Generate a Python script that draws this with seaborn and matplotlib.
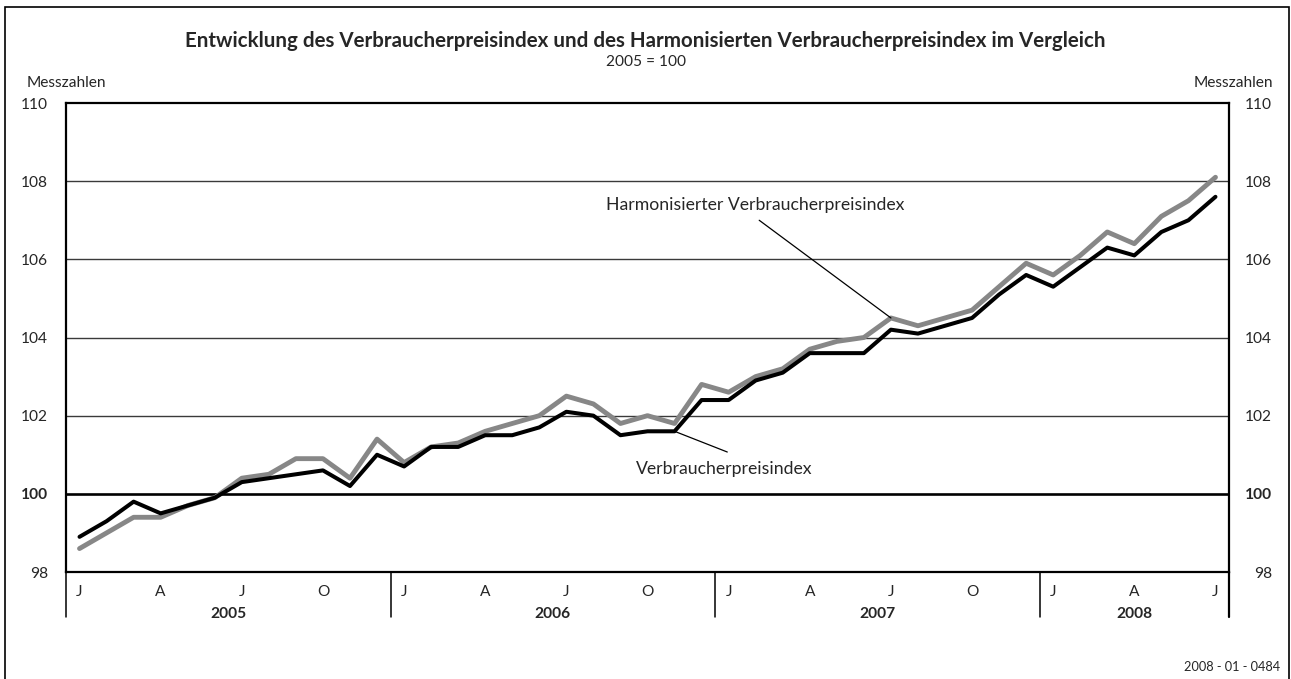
import matplotlib
matplotlib.use("Agg")
import matplotlib.pyplot as plt
import matplotlib.transforms as mtransforms
from matplotlib.patches import Rectangle
import seaborn as sns
import pandas as pd

# Data: monthly index values (2005 = 100), Jan 2005 - Jul 2008
years = ["2005", "2006", "2007", "2008"]
months_per_year = [12, 12, 12, 7]
month_letters = ["J", "F", "M", "A", "M", "J", "J", "A", "S", "O", "N", "D"]

vpi = [98.9, 99.3, 99.8, 99.5, 99.7, 99.9, 100.3, 100.4, 100.5, 100.6, 100.2, 101.0,
       100.7, 101.2, 101.2, 101.5, 101.5, 101.7, 102.1, 102.0, 101.5, 101.6, 101.6, 102.4,
       102.4, 102.9, 103.1, 103.6, 103.6, 103.6, 104.2, 104.1, 104.3, 104.5, 105.1, 105.6,
       105.3, 105.8, 106.3, 106.1, 106.7, 107.0, 107.6]
hvpi = [98.6, 99.0, 99.4, 99.4, 99.7, 99.9, 100.4, 100.5, 100.9, 100.9, 100.4, 101.4,
        100.8, 101.2, 101.3, 101.6, 101.8, 102.0, 102.5, 102.3, 101.8, 102.0, 101.8, 102.8,
        102.6, 103.0, 103.2, 103.7, 103.9, 104.0, 104.5, 104.3, 104.5, 104.7, 105.3, 105.9,
        105.6, 106.1, 106.7, 106.4, 107.1, 107.5, 108.1]

n = len(vpi)
df = pd.DataFrame({"idx": list(range(n)) * 2,
                   "value": vpi + hvpi,
                   "series": ["Verbraucherpreisindex"] * n + ["Harmonisierter Verbraucherpreisindex"] * n})

sns.set_style("white")
plt.rcParams["font.family"] = ["Lato", "DejaVu Sans"]
fs = 11.2

fig = plt.figure(figsize=(12.91, 6.79), dpi=100)
ax = fig.add_axes([66 / 1291, 107 / 679, (1229 - 66) / 1291, (572 - 103) / 679])

# gridlines
for v in [102, 104, 106, 108]:
    ax.axhline(v, color="#3a3a3a", lw=1.0, zorder=1)
ax.axhline(100, color="black", lw=1.9, zorder=1)

sns.lineplot(data=df[df.series.str.startswith("Harm")], x="idx", y="value",
             color="#878787", lw=3.5, ax=ax, zorder=3)
sns.lineplot(data=df[df.series == "Verbraucherpreisindex"], x="idx", y="value",
             color="black", lw=2.9, ax=ax, zorder=4)

ax.set_xlim(-0.5, n - 0.5)
ax.set_ylim(98, 110)
ax.set_xlabel("")
ax.set_ylabel("")

for s in ax.spines.values():
    s.set_color("black")
    s.set_linewidth(1.6)

# x axis: month letters at Jan/Apr/Jul/Oct, minor ticks at month boundaries
major = list(range(0, n, 3))
ax.set_xticks(major)
ax.set_xticklabels([month_letters[i % 12] for i in major], fontsize=fs)
ax.set_xticks([i - 0.5 for i in range(n + 1)], minor=True)
ax.tick_params(axis="x", which="major", length=0, pad=9)
ax.tick_params(axis="x", which="minor", length=4.3, width=1.1, direction="out", color="black")

# y axis labels on both sides
yt = [98, 100, 102, 104, 106, 108, 110]
ax.set_yticks(yt)
ax.set_yticklabels([str(v) for v in yt], fontsize=fs)
ax.tick_params(axis="y", length=0, pad=13)
ax2 = ax.twinx()
ax2.set_ylim(98, 110)
ax2.set_yticks(yt)
ax2.set_yticklabels([str(v) for v in yt], fontsize=fs)
ax2.tick_params(axis="y", length=0, pad=31)
for sp in ax2.spines.values():
    sp.set_visible(False)
for lab in ax2.get_yticklabels():
    lab.set_horizontalalignment("right")
for lab in ax.get_yticklabels() + ax2.get_yticklabels():
    if lab.get_text() == "100":
        lab.set_fontweight("bold")

# year separators and year labels
trans = mtransforms.blended_transform_factory(ax.transData, ax.transAxes)
start = -0.5
for yr, m in zip(years, months_per_year):
    ax.plot([start, start], [0, -0.096], color="black", lw=1.1, transform=trans, clip_on=False)
    ax.text(start + m / 2, -0.09, yr, transform=trans, ha="center", va="center",
            fontsize=fs, fontweight="bold")
    start += m
ax.plot([start, start], [0, -0.096], color="black", lw=1.6, transform=trans, clip_on=False)

# series annotations
ax.text(25.0, 107.4, "Harmonisierter Verbraucherpreisindex", ha="center", va="center", fontsize=12.7)
ax.annotate("", xy=(30, hvpi[30]), xytext=(25.13, 107.0),
            arrowprops=dict(arrowstyle="-", color="black", lw=0.9, shrinkA=0, shrinkB=0))
ax.text(23.84, 100.64, "Verbraucherpreisindex", ha="center", va="center", fontsize=12.7)
ax.annotate("", xy=(22, vpi[22]), xytext=(23.95, 101.07),
            arrowprops=dict(arrowstyle="-", color="black", lw=0.9, shrinkA=0, shrinkB=0))

# titles and texts
fig.text(0.5, 1 - 41 / 679, "Entwicklung des Verbraucherpreisindex und des Harmonisierten "
         "Verbraucherpreisindex im Vergleich", ha="center", va="center",
         fontsize=14.8, fontweight="bold")
fig.text(0.5, 1 - 62 / 679, "2005 = 100", ha="center", va="center", fontsize=fs)
fig.text(27 / 1291, 1 - 83 / 679, "Messzahlen", ha="left", va="center", fontsize=fs)
fig.text(1273 / 1291, 1 - 83 / 679, "Messzahlen", ha="right", va="center", fontsize=fs)
fig.text(1280 / 1291, 1 - 667 / 679, "2008 - 01 - 0484", ha="right", va="center", fontsize=9.2)

# frame around the figure
fig.patches.append(Rectangle((5 / 1291, -0.01), 1284 / 1291, 1 - 7 / 679 + 0.01,
                             transform=fig.transFigure, fill=False, ec="black", lw=1.2))

fig.savefig("out.png", dpi=100)
